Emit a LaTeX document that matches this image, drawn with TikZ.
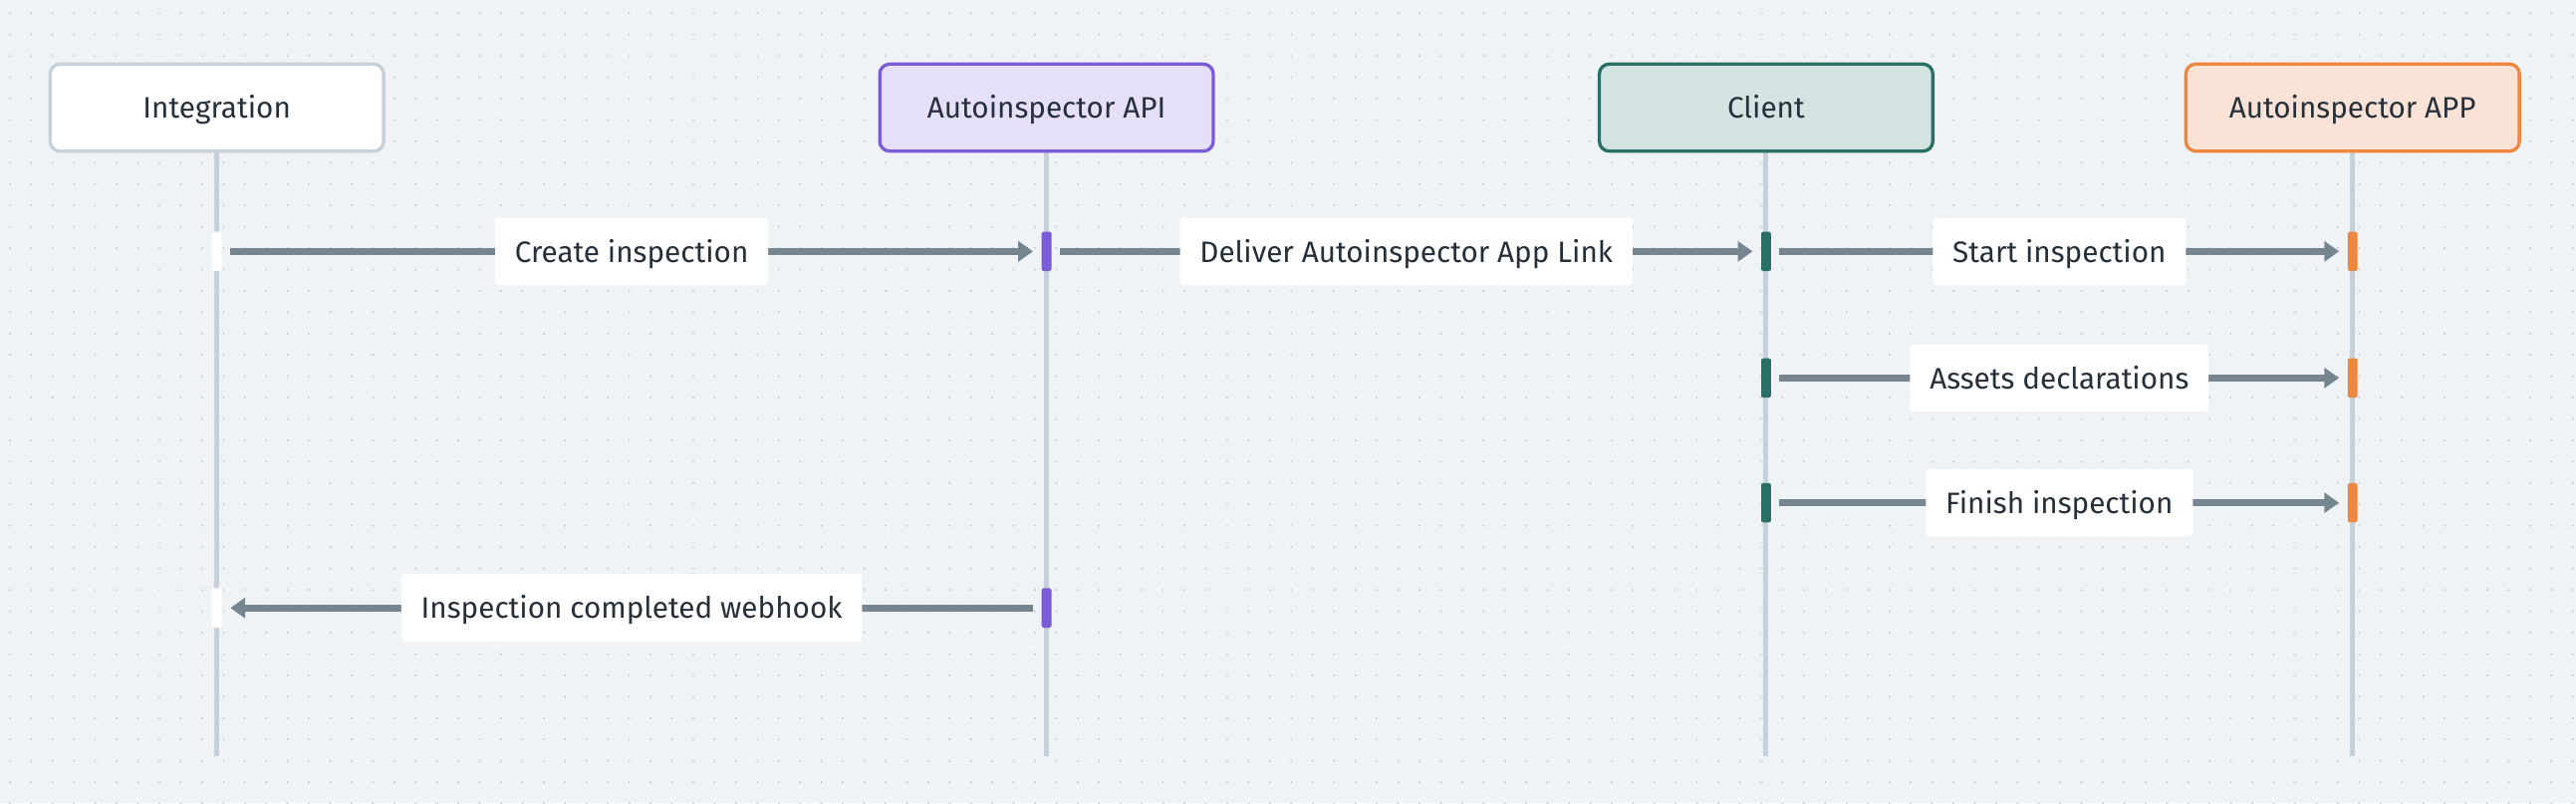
\documentclass[tikz,border=0pt]{standalone}
\usepackage{fontspec}
\setmainfont{Fira Sans}
\usetikzlibrary{positioning,arrows.meta}
\definecolor{bgc}{HTML}{F0F3F6}
\definecolor{dotc}{HTML}{C3CBD3}
\definecolor{linec}{HTML}{C5D0DA}
\definecolor{arrc}{HTML}{768690}
\definecolor{txtc}{HTML}{26303B}
\definecolor{apif}{HTML}{E5DFF7}
\definecolor{apid}{HTML}{7B5CD6}
\definecolor{clif}{HTML}{D3E4E2}
\definecolor{clid}{HTML}{2A6F66}
\definecolor{appf}{HTML}{FAE3D6}
\definecolor{appd}{HTML}{F0873E}
\tikzset{
  actor/.style={draw, rounded corners=6pt, line width=2pt, minimum width=203pt,
    minimum height=53pt, text=txtc, text height=14pt, text depth=1pt,
    font=\fontsize{18}{21}\selectfont},
  life/.style={linec, line width=3pt},
  act/.style={fill=#1, draw=none, minimum width=6pt, minimum height=24pt,
    inner sep=0pt, rounded corners=1pt},
  msg/.style={arrc, line width=4pt, -{Triangle[length=9pt,width=12pt]}},
  lbl/.style={fill=white, rounded corners=2pt, text=txtc, inner xsep=12pt,
    minimum height=41pt, text height=14pt, text depth=1pt,
    font=\fontsize{18}{21}\selectfont}
}
\begin{document}
\begin{tikzpicture}[x=1pt, y=-1pt]
  \fill [bgc] (0,0) rectangle (1568,489);
  \useasboundingbox (0,0) rectangle (1568,489);
  \foreach \i in {0,...,120}
    \foreach \j in {0,...,37}
      \fill [dotc] (6+13*\i, 8+13*\j) circle (0.7pt);

  % lifelines
  \foreach \x in {132,637,1075,1432}
    \draw [life] (\x,92) -- (\x,460);

  \node [actor, draw=linec, fill=white] (integ) at (132,65.5) {Integration};
  \node [actor, draw=apid, fill=apif] (api) at (637,65.5) {Autoinspector API};
  \node [actor, draw=clid, fill=clif] (client) at (1075,65.5) {Client};
  \node [actor, draw=appd, fill=appf] (app) at (1432,65.5) {Autoinspector APP};

  % activations
  \node [act=white] (i1) at (132,153) {};
  \node [act=apid] (a1) at (637,153) {};
  \node [act=clid] (c1) at (1075,153) {};
  \node [act=appd] (p1) at (1432,153) {};
  \node [act=clid] (c2) at (1075,230) {};
  \node [act=appd] (p2) at (1432,230) {};
  \node [act=clid] (c3) at (1075,306) {};
  \node [act=appd] (p3) at (1432,306) {};
  \node [act=white] (i4) at (132,370) {};
  \node [act=apid] (a4) at (637,370) {};

  % messages
  \draw [msg, shorten <=5pt, shorten >=5pt] (i1) -- (a1)
    node [lbl, pos=0.5] {Create inspection};
  \draw [msg, shorten <=5pt, shorten >=5pt] (a1) -- (c1)
    node [lbl, pos=0.5] {Deliver Autoinspector App Link};
  \draw [msg, shorten <=5pt, shorten >=5pt] (c1) -- (p1)
    node [lbl, pos=0.5] {Start inspection};
  \draw [msg, shorten <=5pt, shorten >=5pt] (c2) -- (p2)
    node [lbl, pos=0.5] {Assets declarations};
  \draw [msg, shorten <=5pt, shorten >=5pt] (c3) -- (p3)
    node [lbl, pos=0.5] {Finish inspection};
  \draw [msg, shorten <=5pt, shorten >=5pt] (a4) -- (i4)
    node [lbl, pos=0.5] {Inspection completed webhook};
\end{tikzpicture}
\end{document}
